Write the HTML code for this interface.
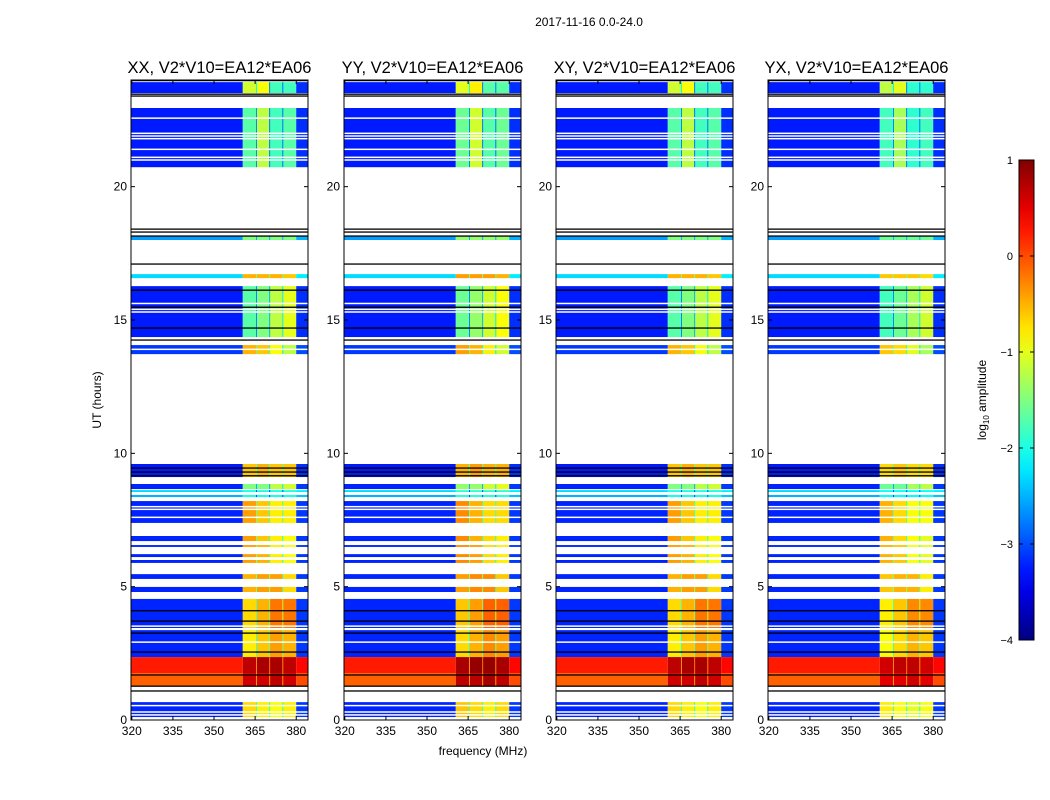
<!DOCTYPE html>
<html><head><meta charset="utf-8"><style>
html,body{margin:0;padding:0;background:#fff;}
svg{display:block;font-family:"Liberation Sans",sans-serif;}
</style></head><body>
<svg id="fig" width="1050" height="800" viewBox="0 0 1050 800">
<text x="589" y="26" font-size="12" text-anchor="middle">2017-11-16 0.0-24.0</text>
<text x="483" y="755" font-size="12" text-anchor="middle">frequency (MHz)</text>
<text transform="translate(101,400) rotate(-90)" font-size="12" text-anchor="middle">UT (hours)</text>
<g id="panels"></g>
<g id="cbar"></g>
</svg>
<script>
// ---- data ----
const panelTitles = ["XX, V2*V10=EA12*EA06","YY, V2*V10=EA12*EA06","XY, V2*V10=EA12*EA06","YX, V2*V10=EA12*EA06"];
const panelHighOffset = [0, 0.1, 0, -0.1];
const segStart = [23.51,20.73,18.0,16.57,14.36,13.72,9.11,8.66,8.55,8.36,7.39,6.71,6.49,6.11,5.89,5.29,4.8,3.45,2.36,1.76,1.27,0.11];
const segEnd   = [23.92,22.95,18.15,16.72,16.27,14.06,9.6,8.85,8.62,8.44,8.21,6.9,6.56,6.22,6.0,5.47,4.99,4.54,3.37,2.36,1.76,0.67];
const lowVal   = [-3.25,-3.25,-2.6,-2.3,-3.25,-3.1,-3.25,-3.2,-2.3,-2.5,-3.2,-3.2,-3.2,-3.2,-3.2,-3.2,-3.2,-3.2,-3.2,0.25,-0.1,-3.2];
const hi1 = [-1.1,-1.7,-1.5,-0.5,-1.7,-0.5,-0.6,-1.5,-2.0,-2.0,-0.4,-0.4,-0.4,-0.4,-0.4,-0.5,-0.5,-0.7,-0.8,0.7,0.6,-0.7];
const hi2 = [-0.9,-1.2,-1.5,-0.5,-1.5,-0.6,-0.5,-1.5,-2.0,-2.0,-0.6,-0.6,-0.5,-0.5,-0.5,-0.4,-0.4,-0.5,-0.6,0.8,0.6,-0.8];
const hi3 = [-1.8,-1.8,-1.5,-0.5,-1.2,-0.9,-0.6,-1.2,-2.0,-2.0,-0.8,-0.8,-0.8,-0.8,-0.8,-0.4,-0.4,-0.2,-0.4,0.8,0.7,-0.9];
const hi4 = [-1.8,-1.7,-1.5,-0.6,-1.0,-1.2,-0.6,-1.1,-2.0,-2.0,-0.8,-0.9,-0.9,-0.9,-0.9,-0.7,-0.7,-0.2,-0.5,0.7,0.6,-0.8];
const subEdges = [360.5,365.5,370.3,375.1,380];
const whiteLines = [22.57,22.0,21.9,21.8,21.4,21.1,21.0,15.62,15.4,15.3,13.9,8.0,7.9,7.6,3.52,2.92,0.54,0.3,0.19];
const blackLines = [23.98,23.47,23.4,18.41,18.3,18.15,17.1,16.12,15.48,14.7,14.25,9.45,9.3,9.16,4.1,3.71,3.26,2.55,1.69,1.27,1.09];
const xTicks = [320,335,350,365,380];
const yTicks = [0,5,10,15,20];
const cbTicks = [-4,-3,-2,-1,0,1];

// ---- scales ----
const panelX = [131,344,556,768], panelW = 177, plotTop = 80, plotBot = 720;
const fMin = 319.7, fMax = 384.3, hMin = 0, hMax = 24;
function xs(p,f){return panelX[p] + (f-fMin)/(fMax-fMin)*panelW;}
function ys(h){return plotBot - (h-hMin)/(hMax-hMin)*(plotBot-plotTop);}
function jet(v){
  let t=(v+4)/5; t=Math.max(0,Math.min(1,t));
  const c=x=>Math.round(255*Math.max(0,Math.min(1,x)));
  return `rgb(${c(1.5-Math.abs(4*t-3))},${c(1.5-Math.abs(4*t-2))},${c(1.5-Math.abs(4*t-1))})`;
}
const NS="http://www.w3.org/2000/svg";
function mk(tag,attrs,parent){const e=document.createElementNS(NS,tag);for(const k in attrs)e.setAttribute(k,attrs[k]);parent.appendChild(e);return e;}

const root=document.getElementById('panels');
for(let p=0;p<4;p++){
  const g=mk('g',{},root);
  
  
  const x0=panelX[p];
  const t=mk('text',{x:x0+panelW/2,y:73,'font-size':16.5,'text-anchor':'middle'},g);
  t.textContent=panelTitles[p];
  
  
  for(let i=0;i<segStart.length;i++){
    const y1=ys(segEnd[i]), y2=ys(segStart[i]), hh=Math.max(1,y2-y1);
    const r=mk('rect',{x:x0,y:y1,width:xs(p,subEdges[0])-x0,height:hh,fill:jet(lowVal[i])},g);
    
    
    const hv=[hi1[i],hi2[i],hi3[i],hi4[i]];
    for(let k=0;k<4;k++){
      const a=xs(p,subEdges[k]), b=xs(p,subEdges[k+1]);
      const c=mk('rect',{x:a,y:y1,width:b-a,height:hh,fill:jet(hv[k]+panelHighOffset[p])},g);
      
      
      if(k>0){const d=mk('rect',{x:a-0.5,y:y1,width:1,height:hh,fill:jet(Math.min(hv[k],hv[k-1])-1)},g);
        
        }
    }
    const e=mk('rect',{x:xs(p,subEdges[4]),y:y1,width:x0+panelW-xs(p,subEdges[4]),height:hh,fill:jet(lowVal[i]+0.1)},g);
    
    
  }
  for(const h of whiteLines){const l=mk('rect',{x:x0,y:ys(h)-0.75,width:panelW,height:1.5,fill:'#fff'},g);
    
    }
  for(const h of blackLines){const l=mk('rect',{x:x0,y:ys(h)-0.6,width:panelW,height:1.3,fill:'#000'},g);
    
    }
  const fr=mk('rect',{x:x0,y:plotTop,width:panelW,height:plotBot-plotTop,fill:'none',stroke:'#000','stroke-width':1},g);
  
  
  for(const v of xTicks){const x=xs(p,v);
    mk('line',{x1:x,x2:x,y1:plotBot,y2:plotBot-4,stroke:'#000'},g);
    mk('line',{x1:x,x2:x,y1:plotTop,y2:plotTop+4,stroke:'#000'},g);
    const tx=mk('text',{x:x,y:plotBot+15,'font-size':12,'text-anchor':'middle'},g);tx.textContent=v;
    
    }
  for(const v of yTicks){const y=ys(v);
    mk('line',{x1:x0,x2:x0+4,y1:y,y2:y,stroke:'#000'},g);
    mk('line',{x1:x0+panelW,x2:x0+panelW-4,y1:y,y2:y,stroke:'#000'},g);
    const tx=mk('text',{x:x0-4,y:y+4,'font-size':12,'text-anchor':'end'},g);tx.textContent=v;
    
    }
}
// colorbar
const cb=document.getElementById('cbar');
const cbX=1019,cbW=15,cbTop=160,cbBot=640;
const defs=mk('defs',{},cb);
const grad=mk('linearGradient',{id:'jetg',x1:0,y1:1,x2:0,y2:0},defs);
for(let i=0;i<=20;i++){mk('stop',{offset:i/20,'stop-color':jet(-4+5*i/20)},grad);}
const cr=mk('rect',{x:cbX,y:cbTop,width:cbW,height:cbBot-cbTop,fill:'url(#jetg)',stroke:'#000','stroke-width':1},cb);


function cy(v){return cbBot-(v+4)/5*(cbBot-cbTop);}
for(const v of cbTicks){const y=cy(v);
  mk('line',{x1:cbX,x2:cbX+4,y1:y,y2:y,stroke:'#000'},cb);
  mk('line',{x1:cbX+cbW,x2:cbX+cbW-4,y1:y,y2:y,stroke:'#000'},cb);
  const tx=mk('text',{x:cbX-6,y:y+4,'font-size':11,'text-anchor':'end'},cb);tx.textContent=(v<0?'\u2212'+(-v):v);
  
  }
const lab=mk('text',{transform:'translate(986,400) rotate(-90)','font-size':12,'text-anchor':'middle'},cb);
lab.innerHTML='log<tspan font-size="8" dy="3">10</tspan><tspan dy="-3"> amplitude</tspan>';


</script>
</body></html>
